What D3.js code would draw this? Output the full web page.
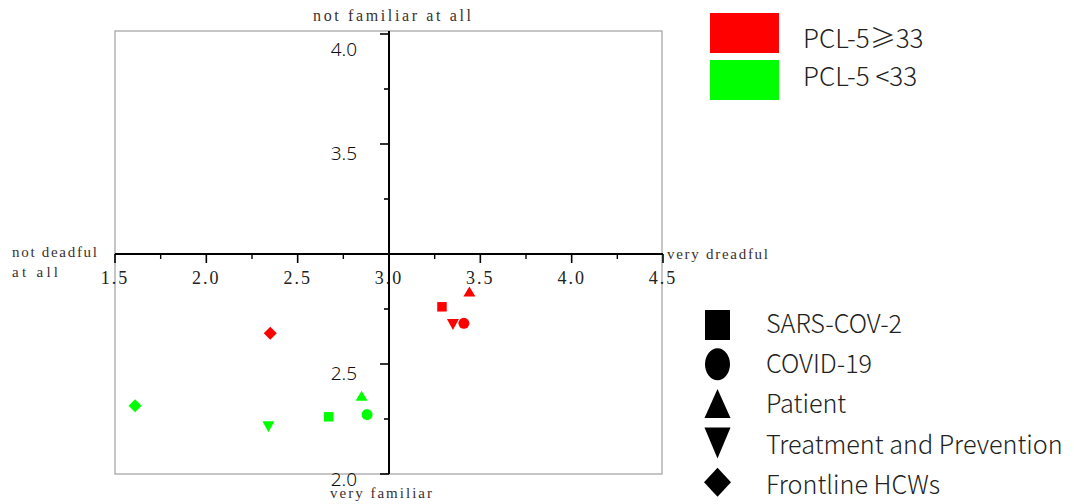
<!DOCTYPE html>
<html><head><meta charset="utf-8">
<script src="https://cdn.jsdelivr.net/npm/d3@7/dist/d3.min.js"></script>
<style>body{margin:0;background:#fff}svg{display:block}</style>
</head><body>
<svg id="c" width="1074" height="504"></svg>
<script>
// ---- data ----
const groups = ["PCL-5≥33", "PCL-5 <33"];
const groupColors = ["#ff0000", "#00ff00"];
const items = ["SARS-COV-2", "COVID-19", "Patient", "Treatment and Prevention", "Frontline HCWs"];
const itemShapes = ["square", "circle", "triangleUp", "triangleDown", "diamond"];
// dread (x) for each item, by group
const dreadHigh = [3.29, 3.41, 3.44, 3.35, 2.35];
const dreadLow  = [2.67, 2.88, 2.85, 2.34, 1.61];
// familiarity (y) for each item, by group
const famHigh = [2.76, 2.685, 2.83, 2.68, 2.64];
const famLow  = [2.26, 2.27, 2.356, 2.215, 2.31];
const xTicks = [1.5, 2.0, 2.5, 3.0, 3.5, 4.0, 4.5];
const xMinor = [1.75, 2.25, 2.75, 3.25, 3.75, 4.25];
const yTickLabels = [2.0, 2.5, 3.5, 4.0];
const yTicksAll = [2.0, 2.25, 2.5, 2.75, 3.0, 3.25, 3.5, 3.75, 4.0];

const svg = d3.select("#c");
const L = 115, R = 663, T = 31, B = 474;
const x = d3.scaleLinear().domain([1.5, 4.5]).range([L, R]);
const y = d3.scaleLinear().domain([2.0, 4.0]).range([474, 34]);

// frame
svg.append("rect").attr("x", L).attr("y", T).attr("width", R - L - 1).attr("height", B - T)
  .attr("fill", "none").attr("stroke", "#a0a0a0").attr("stroke-width", 1.2);

const serif = "'Liberation Serif','DejaVu Serif',serif";
const sans = "'Noto Sans','DejaVu Sans',sans-serif";
const cjk = "'Noto Sans CJK SC','Noto Sans',sans-serif";

// x axis (horizontal, at y=3.0)
const yAxisPos = y(3.0);
const xg = svg.append("g").attr("transform", `translate(0,${yAxisPos})`);
xg.append("line").attr("x1", L).attr("x2", R).attr("stroke", "#000").attr("stroke-width", 2);
xg.selectAll(".mj").data(xTicks).join("line")
  .attr("x1", d => x(d)).attr("x2", d => x(d)).attr("y1", 0).attr("y2", 9)
  .attr("stroke", "#000").attr("stroke-width", 1.6);
xg.selectAll(".mn").data(xMinor).join("line")
  .attr("x1", d => x(d)).attr("x2", d => x(d)).attr("y1", 0).attr("y2", 5)
  .attr("stroke", "#000").attr("stroke-width", 1.4);
xg.selectAll("text").data(xTicks).join("text")
  .attr("x", d => x(d)).attr("y", 30)
  .attr("text-anchor", "middle")
  .attr("font-family", serif).attr("font-size", 18).attr("letter-spacing", 2)
  .attr("fill", "#222")
  .text(d => d3.format(".1f")(d));

// y axis (vertical, at x=3.0)
const xAxisPos = x(3.0);
const yg = svg.append("g").attr("transform", `translate(${xAxisPos},0)`);
yg.append("line").attr("y1", T).attr("y2", y(2.0)).attr("stroke", "#000").attr("stroke-width", 2);
yg.selectAll(".yt").data(yTicksAll).join("line")
  .attr("x1", d => (d * 4) % 2 === 0 ? -9 : -5).attr("x2", 0)
  .attr("y1", d => y(d)).attr("y2", d => y(d))
  .attr("stroke", "#000").attr("stroke-width", 1.6);
yg.selectAll("text").data(yTickLabels).join("text")
  .attr("x", -32).attr("y", d => Math.min(Math.max(y(d) + 16, T + 25), B + 12))
  .attr("text-anchor", "end")
  .attr("font-family", sans).attr("font-size", 19).attr("font-weight", 300).attr("fill", "#111")
  .text(d => d3.format(".1f")(d));

// axis end labels
const lab = (t, xx, yy, anchor, w, fs) => svg.append("text").attr("x", xx).attr("y", yy)
  .attr("text-anchor", anchor).attr("font-family", serif).attr("font-size", fs)
  .attr("textLength", w).attr("lengthAdjust", "spacing")
  .attr("fill", "#3a3030").text(t);
lab("not familiar at all", 392, 21, "middle", 158, 16);
lab("very familiar", 381, 498, "middle", 102, 15);
lab("very dreadful", 667, 259, "start", 101, 15);
lab("not deadful", 12, 257, "start", 85, 15);
lab("at all", 12, 277, "start", 46, 15);

// shapes
function shapePath(type, w, h) {
  const p = d3.path();
  if (type === "square") { p.rect(-w / 2, -h / 2, w, h); }
  else if (type === "triangleUp") { p.moveTo(0, -h / 2); p.lineTo(w / 2, h / 2); p.lineTo(-w / 2, h / 2); p.closePath(); }
  else if (type === "triangleDown") { p.moveTo(0, h / 2); p.lineTo(w / 2, -h / 2); p.lineTo(-w / 2, -h / 2); p.closePath(); }
  else if (type === "diamond") { p.moveTo(0, -h / 2); p.lineTo(w / 2, 0); p.lineTo(0, h / 2); p.lineTo(-w / 2, 0); p.closePath(); }
  return p.toString();
}
function drawShape(sel, type, w, h, color) {
  if (type === "circle") sel.append("ellipse").attr("rx", w / 2).attr("ry", h / 2).attr("fill", color);
  else sel.append("path").attr("d", shapePath(type, w, h)).attr("fill", color);
}

const pts = [];
items.forEach((it, i) => {
  pts.push({ item: it, shape: itemShapes[i], x: dreadHigh[i], y: famHigh[i], color: groupColors[0] });
  pts.push({ item: it, shape: itemShapes[i], x: dreadLow[i], y: famLow[i], color: groupColors[1] });
});
const markSize = { square: [9.5, 9.5], circle: [11, 11], triangleUp: [12, 10], triangleDown: [12, 11], diamond: [13, 13] };
svg.append("g").selectAll("g").data(pts).join("g")
  .attr("transform", d => `translate(${x(d.x)},${y(d.y)})`)
  .each(function (d) { drawShape(d3.select(this), d.shape, markSize[d.shape][0], markSize[d.shape][1], d.color); });

// color legend
const cl = svg.append("g");
groups.forEach((g, i) => {
  cl.append("rect").attr("x", 710).attr("y", 13 + i * 47).attr("width", 69).attr("height", 40).attr("fill", groupColors[i]);
  cl.append("text").attr("x", 803).attr("y", 48 + i * 38).attr("font-family", cjk).attr("font-size", 26)
    .attr("font-weight", 300).attr("fill", "#222").text(g);
});

// shape legend
const legSize = { square: [25, 30], circle: [25, 32], triangleUp: [26, 29], triangleDown: [26, 31], diamond: [27, 29] };
const sl = svg.append("g");
items.forEach((it, i) => {
  const cy = 325 + i * 39.3;
  const s = sl.append("g").attr("transform", `translate(717.5,${cy})`);
  drawShape(s, itemShapes[i], legSize[itemShapes[i]][0], legSize[itemShapes[i]][1], "#000");
  sl.append("text").attr("x", 766).attr("y", 333 + i * 40.2).attr("font-family", cjk).attr("font-size", 25.2)
    .attr("font-weight", 300).attr("fill", "#222").text(it);
});
</script>
</body></html>
